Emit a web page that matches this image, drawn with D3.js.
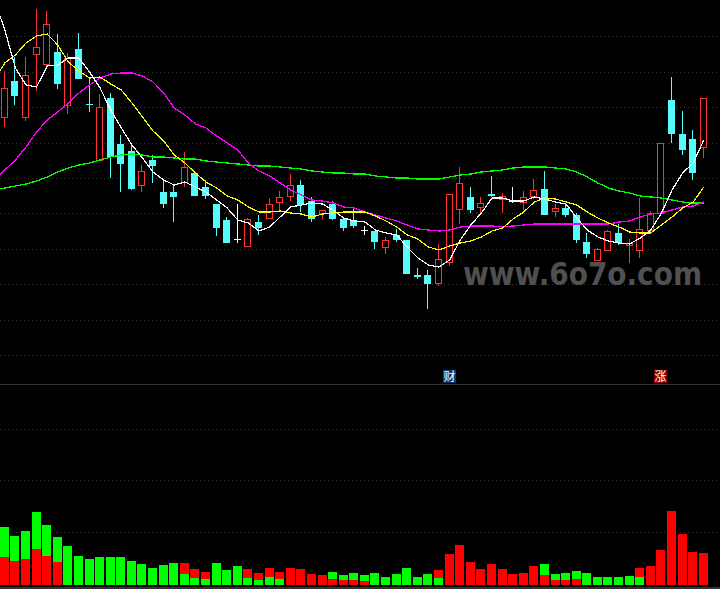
<!DOCTYPE html>
<html><head><meta charset="utf-8">
<script src="https://cdn.jsdelivr.net/npm/d3@7"></script>
<style>html,body{margin:0;padding:0;background:#000;overflow:hidden}svg{display:block}</style>
</head><body><svg id="c" width="720" height="589"></svg>
<script>
const openP=[28.3,31.9,28.3,34.6,33.6,34.8,29.5,35.1,29.6,24.0,30.2,25.6,24.9,21.5,24.0,20.8,20.8,21.8,22.7,21.3,19.6,18.0,16.1,15.4,17.8,18.2,19.8,20.4,21.5,19.9,18.7,19.6,18.1,18.0,17.0,16.9,15.3,16.5,16.0,12.5,12.5,11.7,13.8,19.1,20.3,19.3,20.6,20.1,19.9,19.8,20.4,21.1,18.9,19.2,18.5,15.8,14.0,15.0,16.7,15.5,15.0,17.0,18.7,30.0,26.6,26.1,25.3];
const highP=[32.9,34.3,34.3,39.1,38.9,36.6,34.7,36.7,32.2,30.6,30.7,26.5,25.5,23.5,24.5,21.9,21.6,24.8,22.7,22.0,19.6,18.3,19.6,18.2,18.5,20.2,20.9,22.6,22.0,20.3,19.0,19.9,18.1,19.2,17.4,16.9,16.3,17.1,16.0,13.2,13.0,15.6,20.6,23.3,21.3,20.3,22.4,20.7,21.3,20.9,22.1,22.9,19.6,19.6,18.7,16.7,15.2,17.0,17.6,16.1,20.2,18.9,25.7,32.3,28.9,27.0,30.2];
const lowP=[27.3,29.5,27.9,30.9,33.3,31.1,28.6,32.1,28.8,24.0,22.2,20.8,21.0,20.8,21.7,19.2,17.8,21.3,20.4,20.1,16.4,15.7,15.7,15.4,16.5,18.2,19.0,19.9,18.8,17.8,18.1,18.0,16.9,17.2,16.5,15.1,14.6,15.8,12.6,12.1,9.1,11.4,13.4,17.6,18.7,18.7,20.3,18.7,19.7,19.0,20.1,18.5,18.3,18.3,15.7,14.2,13.9,15.0,15.5,13.7,14.2,16.6,18.7,25.7,24.5,22.0,24.2];
const closeP=[31.2,30.4,32.5,35.3,37.6,31.6,34.2,32.1,29.5,29.3,24.3,23.6,21.1,22.9,23.4,19.6,20.3,23.3,20.4,20.4,17.2,15.7,16.1,18.1,17.2,19.6,20.3,21.5,19.5,18.1,19.0,18.1,17.2,17.4,17.0,15.8,16.0,16.0,12.6,12.3,11.6,14.1,20.6,21.7,19.0,19.7,20.4,20.4,19.9,20.3,21.0,18.5,19.2,18.5,16.0,14.6,15.1,16.9,15.7,15.7,17.1,18.7,25.7,26.6,25.0,22.7,30.2];
// moving averages start one session before the first visible candle
const ma5=[40.1,37.0,33.2,31.5,31.3,33.4,33.5,34.2,34.2,32.8,31.2,29.0,27.2,25.5,24.2,22.8,22.0,21.5,21.8,21.3,20.8,20.0,19.2,18.0,17.7,16.9,17.3,18.3,19.3,19.5,19.7,19.6,19.0,18.2,17.9,17.8,17.0,16.7,16.5,15.3,14.2,13.5,13.3,14.0,16.0,17.5,18.7,20.2,20.2,19.9,19.9,20.3,20.1,19.8,19.6,18.2,17.0,16.3,15.9,15.7,15.6,16.2,17.0,18.7,21.0,22.7,23.7,26.0];
const ma10=[32.0,33.7,34.5,35.7,36.4,36.6,35.5,33.8,32.9,32.2,32.3,31.6,31.0,29.7,28.3,26.9,25.9,24.5,23.7,22.7,21.8,21.2,20.4,20.0,19.3,18.8,18.8,18.9,18.7,18.6,18.3,18.6,18.7,18.8,18.8,18.8,18.4,17.9,17.3,16.5,16.1,15.3,15.0,15.4,15.7,15.9,16.3,16.9,17.2,18.1,18.8,19.8,20.2,20.1,19.8,19.5,18.8,18.2,17.7,17.3,16.8,16.7,16.7,17.5,18.3,19.2,19.8,21.3];
const ma30=[22.0,23.0,24.0,25.3,26.8,28.0,28.8,29.7,30.7,31.5,32.2,32.6,32.7,32.7,32.4,31.8,30.7,29.2,28.5,27.6,27.2,26.4,25.7,25.0,23.7,22.9,22.4,21.7,21.0,20.5,20.0,19.9,19.7,19.3,19.2,18.8,18.5,18.2,17.9,17.5,17.1,17.0,16.9,17.0,17.3,17.4,17.4,17.4,17.3,17.4,17.5,17.6,17.6,17.6,17.6,17.6,17.6,17.6,17.6,17.8,17.9,18.3,18.6,18.7,19.0,19.3,19.4,19.8];
const ma60=[21.0,21.2,21.4,21.6,21.9,22.3,22.8,23.2,23.5,23.7,24.0,24.3,24.5,24.6,24.5,24.3,24.3,24.2,24.1,24.1,23.9,23.8,23.7,23.6,23.5,23.4,23.4,23.3,23.2,23.1,22.9,22.8,22.7,22.7,22.6,22.6,22.4,22.3,22.2,22.2,22.1,22.1,22.1,22.3,22.5,22.6,22.8,22.9,23.0,23.2,23.3,23.3,23.3,23.2,23.1,22.8,22.3,21.7,21.2,20.9,20.7,20.4,20.3,20.2,20.0,19.8,19.7,19.7];
const volGreen=[58,49,54,73,60,48,39,29,26,28,28,28,24,21,17,20,22,11,7,6,22,15,19,7,5,8,6,0,0,0,0,13,10,12,10,12,8,11,17,8,11,7,0,0,0,0,0,0,0,0,0,21,11,12,14,12,8,8,8,9,8,0,0,0,0,0,0];
const volRed=[28,24,26,36,29,23,0,0,0,0,0,0,0,0,0,0,0,22,16,13,0,0,0,16,12,17,13,17,16,11,10,6,5,5,4,0,0,0,0,0,0,15,31,40,23,16,21,16,11,12,19,10,5,5,6,0,0,0,0,0,17,19,35,74,51,33,32];
const priceGrid=[36.4,32.8,29.3,25.7,22.2,18.7,15.1,11.6,8.0,4.5];
const volGrid=[53,105,156];
const signals=[{i:42,label:"财",color:"#0a3a72"},{i:62,label:"涨",color:"#8a0000"}];
const watermark="www.6o7o.com";

const UP="#ff3232",DOWN="#54fcfc",DOJI="#ffffff";
const svg=d3.select("#c");
svg.append("rect").attr("width",720).attr("height",589).attr("fill","#000");

const x=d3.scaleLinear().domain([0,66]).range([4.3,703.3]);
const px=i=>Math.floor(x(i));
const y=d3.scaleLinear().domain([40,0]).range([0,400]);
const yv=d3.scaleLinear().domain([0,100]).range([585,485]);
const snap=v=>Math.round(y(v));

// grid
const grid=svg.append("g").attr("stroke","#333").attr("stroke-dasharray","1 3").attr("shape-rendering","crispEdges");
grid.selectAll(".gp").data(priceGrid).join("line").attr("x1",0).attr("x2",720).attr("y1",d=>snap(d)+.5).attr("y2",d=>snap(d)+.5);
grid.selectAll(".gv").data(volGrid).join("line").attr("class","gv").attr("x1",0).attr("x2",720).attr("y1",d=>Math.round(yv(d))+.5).attr("y2",d=>Math.round(yv(d))+.5);

// separators
svg.append("rect").attr("x",0).attr("y",384).attr("width",720).attr("height",1).attr("fill","#333");
svg.append("rect").attr("x",0).attr("y",587).attr("width",720).attr("height",2).attr("fill","#333");

// watermark
svg.append("text").text(watermark).attr("transform","translate(463,285) scale(1,1.12)")
  .attr("textLength",239).attr("lengthAdjust","spacingAndGlyphs")
  .attr("font-family","'DejaVu Sans'").attr("font-weight","bold").attr("font-size",28).attr("fill","#505050");

// candles
const idx=d3.range(openP.length);
const colorOf=i=>openP[i]===closeP[i]?DOJI:(closeP[i]>openP[i]?UP:DOWN);
const g=svg.append("g").attr("shape-rendering","crispEdges");
g.selectAll(null).data(idx).join("rect").attr("x",px).attr("width",1)
  .attr("y",i=>snap(highP[i])).attr("height",i=>Math.max(1,snap(lowP[i])-snap(highP[i])))
  .attr("fill",colorOf);
const bodyTop=i=>snap(Math.max(openP[i],closeP[i])), bodyBot=i=>snap(Math.min(openP[i],closeP[i]));
g.selectAll(null).data(idx).join("rect").attr("x",i=>px(i)-3).attr("width",7)
  .attr("y",bodyTop).attr("height",i=>Math.max(1,bodyBot(i)-bodyTop(i)+(colorOf(i)===DOWN?0:1))).attr("fill",colorOf);
// hollow interior of the rising candles
g.selectAll(null).data(idx.filter(i=>colorOf(i)===UP)).join("rect").attr("x",i=>px(i)-2).attr("width",5)
  .attr("y",i=>bodyTop(i)+1).attr("height",i=>Math.max(0,bodyBot(i)-bodyTop(i)-1)).attr("fill","#000");

// moving averages
const line=d3.line().x((d,k)=>x(k-1)+.5).y(d=>y(d));
[[ma60,"#00ff00",1.3],[ma30,"#ff00ff",1.3],[ma10,"#ffff00",1.2],[ma5,"#ffffff",1.2]].forEach(([s,c,w])=>{
  svg.append("path").attr("d",line(s)).attr("fill","none").attr("stroke",c).attr("stroke-width",w).attr("shape-rendering","crispEdges");
});

// signals
const sg=svg.selectAll(".s").data(signals).join("g");
sg.append("rect").attr("x",d=>px(d.i)-6).attr("y",370).attr("width",13).attr("height",13).attr("fill",d=>d.color);
sg.append("text").text(d=>d.label).attr("x",d=>px(d.i)+.5).attr("y",381).attr("text-anchor","middle")
  .attr("font-family","'Noto Sans CJK SC'").attr("font-size",12).attr("fill","#fff");

// volume
const vb=svg.append("g").attr("shape-rendering","crispEdges");
function bars(arr,col,test){
  vb.selectAll(null).data(idx.filter(test)).join("rect").attr("x",i=>px(i)-4).attr("width",9)
    .attr("y",i=>yv(arr[i])).attr("height",i=>yv(0)-yv(arr[i])).attr("fill",col);
}
bars(volGreen,"#00ff00",i=>volGreen[i]>volRed[i]);
bars(volRed,"#ff0000",i=>volRed[i]>0);
bars(volGreen,"#00ff00",i=>volGreen[i]>0&&volGreen[i]<=volRed[i]);
</script></body></html>
